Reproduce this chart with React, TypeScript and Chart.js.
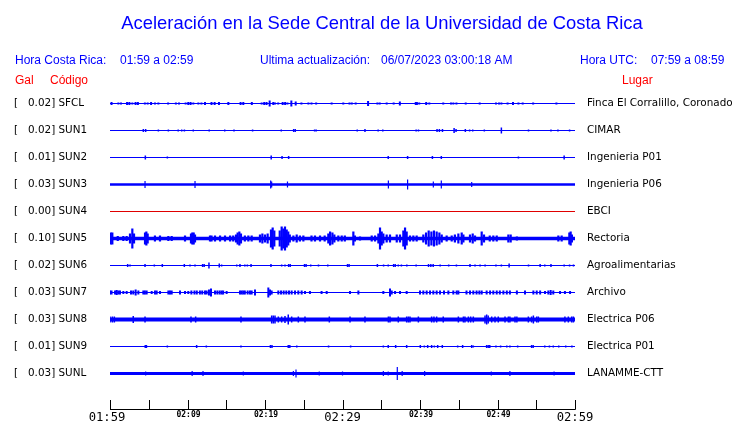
import React, { useEffect, useRef } from 'react';
import { Chart, registerables } from 'chart.js';
Chart.register(...registerables);

const titleText = 'Aceleración en la Sede Central de la Universidad de Costa Rica';
const codes = ['SFCL', 'SUN1', 'SUN2', 'SUN3', 'SUN4', 'SUN5', 'SUN6', 'SUN7', 'SUN8', 'SUN9', 'SUNL'];
const gals = ['0.02', '0.02', '0.01', '0.03', '0.00', '0.10', '0.02', '0.03', '0.03', '0.01', '0.03'];
const places = ['Finca El Corralillo, Coronado', 'CIMAR', 'Ingenieria P01', 'Ingenieria P06', 'EBCI', 'Rectoria', 'Agroalimentarias', 'Archivo', 'Electrica P06', 'Electrica P01', 'LANAMME-CTT'];

// [minute since 01:59, half amplitude]
const sfcl = [[0.2,1.5],[1.08,1],[1.42,1],[2.2,1.5],[2.5,1.5],[2.88,1],[3.3,1.5],[3.6,1.5],[4.5,1],[4.86,1],[5.3,1.5],[5.8,1],[6.24,1],[7.5,1],[8.5,1],[8.9,1],[9.76,1],[10.1,1.5],[10.4,1.5],[10.75,1],[11.4,1],[11.8,1],[12.26,1.5],[13.1,1.5],[13.5,1.5],[14.06,1.5],[15.27,1.5],[16.85,1.5],[17.2,1.5],[18.3,1.5],[19.57,1],[19.9,1.5],[20.2,1.5],[20.6,3],[21.07,1.5],[21.3,1],[21.7,1],[22.28,1.5],[22.6,1.5],[22.9,1],[23.4,3],[23.96,2],[24.7,1],[25.6,1],[26.0,1],[26.6,1],[28.6,1],[30.1,1],[30.9,1],[31.2,1],[31.7,1],[33.3,2.5],[34.5,1],[34.8,1],[35.7,1],[36.6,1],[37.4,2],[39.45,1.5],[39.6,1.5],[39.9,1],[40.8,1.5],[41.2,1],[43.0,1],[44.0,1],[44.3,1],[44.7,1],[45.9,1],[47.7,1],[49.8,1],[50.2,1],[50.5,1],[51.3,1],[52.0,1.5],[52.7,1],[53.25,1],[54.6,1],[57.6,1]];
const sun1 = [[4.3,1.5],[4.6,1.5],[6.24,1],[7.53,1],[8.8,1],[9.25,1],[9.6,1],[10.75,1],[12.8,1],[14.8,1],[16.0,1],[18.4,1],[22.1,1],[23.7,1.5],[23.9,1.5],[26.4,1],[26.6,1],[31.9,1],[32.9,1.5],[34.6,1],[35.2,1],[39.5,1],[39.8,1],[42.2,1.5],[42.5,1.5],[42.9,1.5],[44.4,2.5],[44.65,1.5],[45.85,1.5],[46.4,1],[46.8,1],[48.3,1],[50.5,3],[54.0,1],[56.9,1],[57.8,1],[59.3,1]];
const sun2 = [[4.56,2],[7.4,1],[20.8,2],[22.2,1.5],[23.05,1.5],[35.9,1.5],[38.4,1.5],[41.6,1.5],[42.75,1.5],[52.7,1],[58.6,2]];
const sun3 = [[4.52,3.5],[10.97,3.5],[20.73,4],[20.86,3],[22.9,3],[35.92,4],[38.4,5],[41.72,3],[42.75,4],[46.67,2.5]];
const sun4: number[][] = [];
const sun5 = [[0.1,6],[0.3,6],[1.0,2.5],[1.72,2.5],[2.15,2.5],[2.58,5],[2.88,10],[3.1,5],[4.52,6],[4.69,7],[4.86,5],[5.8,3],[6.45,3],[7.53,2.5],[7.96,2.5],[9.68,3],[10.45,5],[10.62,6],[10.8,6],[10.97,4],[12.9,3],[13.1,3],[13.55,3],[14.2,3],[14.84,3],[15.5,3],[15.9,3],[16.26,4],[16.47,6],[16.69,7],[16.9,5],[17.4,3],[17.85,3],[18.28,3],[19.35,4],[19.66,5],[20.0,4],[20.34,5],[20.77,9],[20.99,11],[21.2,8],[21.9,8],[22.15,12],[22.36,10],[22.58,12],[22.8,9],[23.0,7],[23.2,4],[23.66,3],[24.09,4],[24.5,3],[24.95,3],[26.0,3],[26.45,3],[27.1,3],[27.7,3],[28.17,5],[28.4,7],[28.7,6],[28.95,4],[29.46,3],[29.9,3],[30.3,3],[31.4,7],[31.6,3],[32.26,2],[33.77,3],[34.2,3],[34.63,5],[34.84,11],[35.06,7],[35.27,5],[35.7,4],[36.13,4],[37.0,4],[37.42,4],[37.85,8],[38.07,11],[38.28,7],[38.71,3],[39.14,3],[39.57,3],[40.43,4],[40.78,6],[41.12,8],[41.47,7],[41.8,8],[42.15,7],[42.5,6],[42.8,4],[43.44,3],[44.09,3],[44.5,4],[44.95,5],[45.38,6],[45.6,4],[46.45,4],[46.8,5],[47.1,3],[47.96,7],[48.26,4],[49.0,3],[49.46,3],[49.9,3],[51.4,4],[51.7,4],[52.5,2],[57.85,3],[58.28,3],[59.27,6],[59.44,7],[59.6,4]];
const sun6 = [[2.28,1.5],[2.58,1],[4.52,1.5],[5.72,1],[6.75,1.5],[9.59,1.5],[10.32,1],[10.97,1],[11.95,1.5],[12.15,1.5],[12.77,3],[14.1,2],[14.4,1],[16.35,1],[16.77,1.5],[17.4,1],[17.72,1],[18.2,1.5],[20.77,1.5],[22.15,1],[22.58,1],[23.05,1.5],[23.25,1.5],[25.1,1.5],[25.3,1.5],[25.9,1],[26.9,1],[28.1,1],[30.65,1.5],[30.85,1.5],[34.5,1.5],[35.3,1],[35.9,1],[36.6,1.5],[36.8,1.5],[37.2,1],[37.6,1],[38.3,1],[39.5,1],[41.1,1.5],[41.4,1.5],[41.7,1.5],[42.6,1],[43.7,1],[44.7,1],[46.45,1.5],[47.1,1],[47.75,1],[48.4,1],[49.8,1],[50.5,1],[51.5,2],[54.0,1],[55.5,1.5],[56.1,1],[56.9,1.5],[58.6,1],[59.3,1],[59.8,1]];
const sun7 = [[0.0,2],[0.2,2],[0.65,2],[0.86,2.5],[1.07,2],[1.29,2],[1.72,1.5],[2.15,1.5],[2.71,2],[3.0,2],[3.31,3],[3.66,2],[4.3,2],[4.5,2],[4.73,2],[5.38,1.5],[5.8,2],[6.02,2],[6.45,1.5],[7.53,2],[7.74,2],[7.96,2],[9.03,2],[9.68,1.5],[10.1,1.5],[10.5,2],[10.9,2],[11.2,2],[11.6,2],[11.9,2],[12.26,2],[12.47,2],[12.77,3],[13.03,4],[13.55,2],[13.85,2],[14.15,2],[14.4,2],[14.6,2],[15.05,1.5],[16.77,2],[16.99,2],[17.2,2],[17.4,2],[17.76,2],[18.06,2],[18.28,2],[18.71,3],[20.43,5],[20.65,3],[20.86,2],[21.72,2],[22.07,2],[22.41,2],[22.75,2],[23.1,2],[23.44,2],[23.87,2],[24.3,2],[24.73,2],[25.16,1.5],[25.8,1.5],[27.3,1.5],[27.96,1.5],[30.97,1.5],[32.05,2],[35.27,1.5],[36.13,4],[36.35,2],[36.78,1.5],[37.42,1.5],[38.28,1.5],[40.0,2],[40.43,2],[40.86,2],[41.29,2],[41.72,2],[42.15,2],[42.58,2],[43.1,2],[43.66,2],[44.3,2],[44.73,2],[44.95,2],[46.0,2],[46.45,2],[46.88,2],[47.3,2],[47.66,2],[47.96,2],[48.6,2],[49.04,2],[49.46,2],[49.9,2],[50.3,2],[50.76,2],[51.2,2],[51.6,2],[52.5,2],[53.55,2],[54.63,2],[55.06,2],[55.5,2],[56.13,1.5],[56.56,2],[56.86,2.5],[57.2,2],[58.07,1.5],[58.7,1.5],[59.36,1.5]];
const sun8 = [[0.0,3],[0.3,3],[0.56,3],[3.0,3.5],[4.52,3],[10.45,3],[11.05,3],[16.9,3],[20.86,4],[21.07,4],[21.29,4],[21.72,3],[22.15,3],[22.58,3.5],[23.0,5],[23.44,3],[24.3,3],[25.16,3],[28.3,3],[30.97,3],[32.9,3],[35.92,3],[36.13,3],[37.2,3],[38.28,3],[38.5,3],[38.71,3],[39.79,3],[41.5,3],[41.8,3],[42.15,3],[43.0,3],[44.95,3],[45.6,3],[45.8,3],[46.24,3],[46.54,3],[46.88,3],[48.39,4],[48.6,5],[48.8,4],[49.25,3],[49.68,3],[50.1,3],[50.97,3],[51.4,3],[51.6,3],[52.26,3],[52.5,3],[53.98,3],[54.4,3],[54.63,4],[55.06,3],[55.27,3],[58.7,3],[59.14,3],[59.57,3],[59.79,3]];
const sun9 = [[4.55,1.5],[4.7,1.5],[7.4,1],[11.18,1.5],[12.43,1],[16.9,1],[20.7,1.5],[20.9,1.5],[23.0,1.5],[23.2,1.5],[24.1,1],[28.2,1],[31.05,1],[35.27,1],[35.9,1.5],[36.86,1.5],[38.28,1.5],[40.04,1.5],[40.56,1],[40.99,1.5],[41.5,1.5],[41.85,1],[42.28,1.5],[42.88,1.5],[44.86,1],[45.5,1.5],[46.67,1.5],[46.88,1],[48.6,1.5],[48.8,1.5],[49.0,1.5],[49.8,1],[50.4,1],[51.2,1],[51.6,1],[52.6,1],[54.4,1.5],[54.6,1.5],[56.1,1],[56.7,1],[57.2,1],[57.9,1],[58.8,1],[59.6,1]];
const sunl = [[4.6,2],[10.6,2.5],[12.0,2.5],[17.2,2],[23.66,2.5],[24.0,4],[27.0,2],[30.0,2],[35.27,2.5],[35.9,2],[37.07,6.5],[37.7,2.5],[40.6,2.5],[49.2,2],[51.6,2.5],[57.3,2]];
const traces = [sfcl, sun1, sun2, sun3, sun4, sun5, sun6, sun7, sun8, sun9, sunl];

const tickMinutes = [0, 5, 10, 15, 20, 25, 30, 35, 40, 45, 50, 55, 60];
const tickLabels = ['01:59', '', '02:09', '', '02:19', '', '02:29', '', '02:39', '', '02:49', '', '02:59'];
const majorTicks = ['01:59', '02:29', '02:59'];

const ROW = 27;

export default function App() {
  const ref = useRef<HTMLCanvasElement>(null);
  useEffect(() => {
    if (!ref.current) return;
    const lineWidths = [1, 1, 1, 2.5, 1, 3.5, 1, 1, 4, 1, 3];
    const barWidths = [2, 1.5, 1.5, 1.2, 1, 2.2, 1.5, 2, 1.5, 1.5, 1.2];
    const colorOf = (i: number) => (codes[i] === 'SUN4' ? '#e00000' : '#0000ff');
    const datasets: any[] = [];
    codes.forEach((c, i) => {
      datasets.push({
        type: 'line',
        label: c,
        data: [{ x: 0, y: i * ROW }, { x: 60, y: i * ROW }],
        borderColor: colorOf(i),
        borderWidth: lineWidths[i],
        pointRadius: 0,
        order: 2,
      });
      datasets.push({
        type: 'bar',
        label: c + ' env',
        data: traces[i].map(([t, a]) => ({ x: t, y: [i * ROW - a, i * ROW + a] })),
        backgroundColor: colorOf(i),
        barThickness: barWidths[i],
        inflateAmount: 0,
        borderWidth: 0,
        grouped: false,
        order: 1,
      });
    });

    const textPlugin = {
      id: 'texts',
      afterDraw(chart: any) {
        const { ctx } = chart;
        const xs = chart.scales.x;
        const ys = chart.scales.y;
        ctx.save();
        ctx.textBaseline = 'alphabetic';
        ctx.fillStyle = '#0000ff';
        ctx.font = '18.4px "Liberation Sans"';
        ctx.textAlign = 'center';
        ctx.fillText(titleText, 382, 29);
        ctx.textAlign = 'left';
        ctx.font = '12px "Liberation Sans"';
        ctx.fillText('Hora Costa Rica:', 15, 64);
        ctx.fillText('01:59 a 02:59', 120, 64);
        ctx.fillText('Ultima actualización:', 260, 64);
        ctx.fillText('06/07/2023 03:00:18 AM', 381, 64);
        ctx.fillText('Hora UTC:', 580, 64);
        ctx.fillText('07:59 a 08:59', 651, 64);
        ctx.fillStyle = '#ff0000';
        ctx.fillText('Gal', 15, 84);
        ctx.fillText('Código', 50, 84);
        ctx.fillText('Lugar', 622, 84);

        ctx.fillStyle = '#000000';
        ctx.font = '10.4px "DejaVu Sans"';
        ctx.textBaseline = 'middle';
        codes.forEach((c, i) => {
          const py = ys.getPixelForValue(i * ROW);
          ctx.fillText('[', 14, py);
          ctx.fillText(gals[i] + '] ' + c, 28, py);
          ctx.fillText(places[i], 587, py);
        });

        // time axis
        const axisY = 409.5;
        ctx.strokeStyle = '#000000';
        ctx.lineWidth = 1;
        ctx.beginPath();
        ctx.moveTo(xs.getPixelForValue(0), axisY);
        ctx.lineTo(xs.getPixelForValue(60) + 0.5, axisY);
        tickMinutes.forEach((m) => {
          const px = Math.round(xs.getPixelForValue(m)) + 0.5;
          ctx.moveTo(px, axisY);
          ctx.lineTo(px, 400);
        });
        ctx.stroke();
        ctx.textAlign = 'center';
        ctx.textBaseline = 'alphabetic';
        tickMinutes.forEach((m, k) => {
          const lab = tickLabels[k];
          if (!lab) return;
          const px = xs.getPixelForValue(m);
          if (majorTicks.includes(lab)) {
            ctx.font = '12.2px "DejaVu Sans Mono"';
            ctx.fillText(lab, k === 0 ? px - 3 : px, 421);
          } else {
            ctx.font = 'bold 8px "DejaVu Sans Mono"';
            ctx.fillText(lab, px + 1, 417);
          }
        });
        ctx.restore();
      },
    };

    const chart = new Chart(ref.current, {
      type: 'bar',
      data: { datasets },
      options: {
        animation: false,
        responsive: false,
        devicePixelRatio: 1,
        layout: { padding: { left: 110, right: 165, top: 90, bottom: 14 } },
        plugins: { legend: { display: false }, tooltip: { enabled: false }, title: { display: false } },
        scales: {
          x: { type: 'linear', min: 0, max: 60, display: false, offset: false },
          y: { type: 'linear', min: -13.5, max: 305.5, reverse: true, display: false },
        },
      },
      plugins: [textPlugin],
    } as any);
    return () => chart.destroy();
  }, []);

  return (
    <div style={{ position: 'fixed', left: 0, top: 0, width: 740, height: 423, background: '#ffffff' }}>
      <canvas ref={ref} width={740} height={423} style={{ display: 'block' }} />
    </div>
  );
}
